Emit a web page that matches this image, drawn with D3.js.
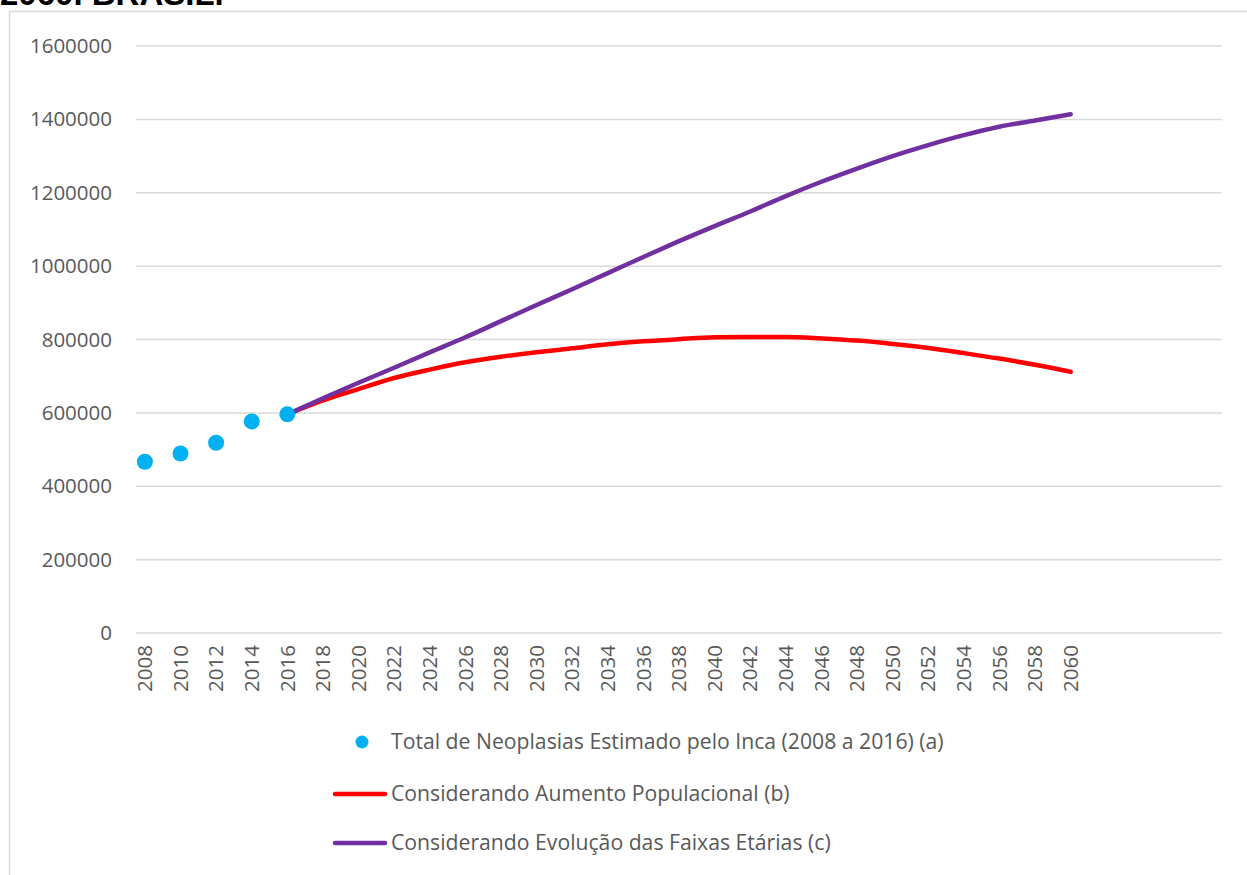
<!DOCTYPE html>
<html>
<head>
<meta charset="utf-8">
<script src="https://cdn.jsdelivr.net/npm/d3@7"></script>
<style>
  html, body { margin: 0; padding: 0; background: #fff; }
  svg { display: block; }
</style>
</head>
<body>
<svg id="chart" width="1247" height="875"></svg>
<script>
// Category axis: one slot per year (axis runs past the last projection year)
const years = d3.range(2008, 2069);
const tickYears = d3.range(2008, 2061, 2);
const yTicks = [0, 200000, 400000, 600000, 800000, 1000000, 1200000, 1400000, 1600000];

// (a) INCA estimates
const incaYears = [2008, 2010, 2012, 2014, 2016];
const incaValues = [466730, 489270, 518510, 576580, 596070];

// (b) and (c) projections, every two years
const projYears = [2016, 2018, 2020, 2022, 2024, 2026, 2028, 2030, 2032, 2034, 2036, 2038,
                   2040, 2042, 2044, 2046, 2048, 2050, 2052, 2054, 2056, 2058, 2060];
const popValues = [596070, 634000, 665000, 695000, 718000, 738000, 753000, 765000, 776000, 787000, 795000, 801000,
                   806000, 807000, 807000, 803000, 797000, 788000, 777000, 763000, 748000, 731000, 712000];
const ageValues = [596070, 640000, 682000, 723000, 765000, 806000, 850000, 894000, 937000, 981000, 1025000, 1068000,
                   1109000, 1149000, 1191000, 1230000, 1266000, 1300000, 1330000, 1357000, 1380000, 1397000, 1414000];

const legendLabels = [
  "Total de Neoplasias Estimado pelo Inca (2008 a 2016) (a)",
  "Considerando Aumento Populacional (b)",
  "Considerando Evolução das Faixas Etárias (c)"
];

const colors = { inca: "#00b0f0", pop: "#ff0000", age: "#7030a0" };
const font = "'Open Sans', 'Noto Sans', sans-serif";
const fontSize = 20.5;
const legendFontSize = 21.2;

const svg = d3.select("#chart");

// chart frame
svg.append("path")
  .attr("d", "M9.5,875 L9.5,11.5 L1260,11.5")
  .attr("fill", "none")
  .attr("stroke", "#d9d9d9")
  .attr("stroke-width", 1.5);

// title (last line of a heading that begins above the frame)
svg.append("text")
  .attr("x", 0).attr("y", 5)
  .attr("font-family", "'Liberation Sans', Arial, sans-serif")
  .attr("font-weight", "bold")
  .attr("font-size", 33)
  .attr("fill", "#000")
  .text("2060. BRASIL.");

const plot = { left: 136, right: 1222, top: 46, bottom: 633 };

const x = d3.scaleBand().domain(years).range([plot.left, plot.right]);
const cx = yr => x(yr) + x.bandwidth() / 2;
const y = d3.scaleLinear().domain([0, 1600000]).range([plot.bottom, plot.top]);

// gridlines
svg.append("g")
  .selectAll("line")
  .data(yTicks)
  .join("line")
  .attr("x1", plot.left).attr("x2", plot.right)
  .attr("y1", d => y(d)).attr("y2", d => y(d))
  .attr("stroke", "#d9d9d9")
  .attr("stroke-width", 1.5);

// y axis labels
const yAxis = svg.append("g")
  .attr("transform", `translate(${plot.left - 24},0)`)
  .call(d3.axisLeft(y).tickValues(yTicks).tickSize(0).tickPadding(0).tickFormat(d3.format("d")));
yAxis.select(".domain").remove();
yAxis.selectAll("text")
  .attr("font-family", font)
  .attr("font-size", fontSize)
  .attr("fill", "#595959");

// x axis labels (vertical)
const xAxis = svg.append("g")
  .attr("transform", `translate(0,${plot.bottom})`)
  .call(d3.axisBottom(x).tickValues(tickYears).tickSize(0).tickPadding(0));
xAxis.select(".domain").remove();
xAxis.selectAll("text")
  .attr("font-family", font)
  .attr("font-size", fontSize)
  .attr("fill", "#595959")
  .attr("transform", "rotate(-90)")
  .attr("text-anchor", "end")
  .attr("x", -12)
  .attr("y", 0)
  .attr("dy", "0.35em");

// projection lines
const line = d3.line()
  .x(d => cx(d[0]))
  .y(d => y(d[1]))
  .curve(d3.curveMonotoneX);

[[popValues, colors.pop], [ageValues, colors.age]].forEach(([vals, col]) => {
  svg.append("path")
    .datum(projYears.map((yr, i) => [yr, vals[i]]))
    .attr("d", line)
    .attr("fill", "none")
    .attr("stroke", col)
    .attr("stroke-width", 4.5)
    .attr("stroke-linecap", "round")
    .attr("stroke-linejoin", "round");
});

// INCA points
svg.append("g")
  .selectAll("circle")
  .data(incaYears.map((yr, i) => [yr, incaValues[i]]))
  .join("circle")
  .attr("cx", d => cx(d[0]))
  .attr("cy", d => y(d[1]))
  .attr("r", 8)
  .attr("fill", colors.inca);

// legend
const legend = svg.append("g");
const rows = [742, 794, 843];
legend.append("circle")
  .attr("cx", 362).attr("cy", rows[0]).attr("r", 6.5)
  .attr("fill", colors.inca);
legend.append("line")
  .attr("x1", 335).attr("x2", 385).attr("y1", rows[1]).attr("y2", rows[1])
  .attr("stroke", colors.pop).attr("stroke-width", 4.5).attr("stroke-linecap", "round");
legend.append("line")
  .attr("x1", 335).attr("x2", 385).attr("y1", rows[2]).attr("y2", rows[2])
  .attr("stroke", colors.age).attr("stroke-width", 4.5).attr("stroke-linecap", "round");
legend.selectAll("text")
  .data(legendLabels)
  .join("text")
  .attr("x", 391)
  .attr("y", (d, i) => rows[i])
  .attr("dy", "0.35em")
  .attr("font-family", font)
  .attr("font-size", legendFontSize)
  .attr("fill", "#595959")
  .text(d => d);
</script>
</body>
</html>
